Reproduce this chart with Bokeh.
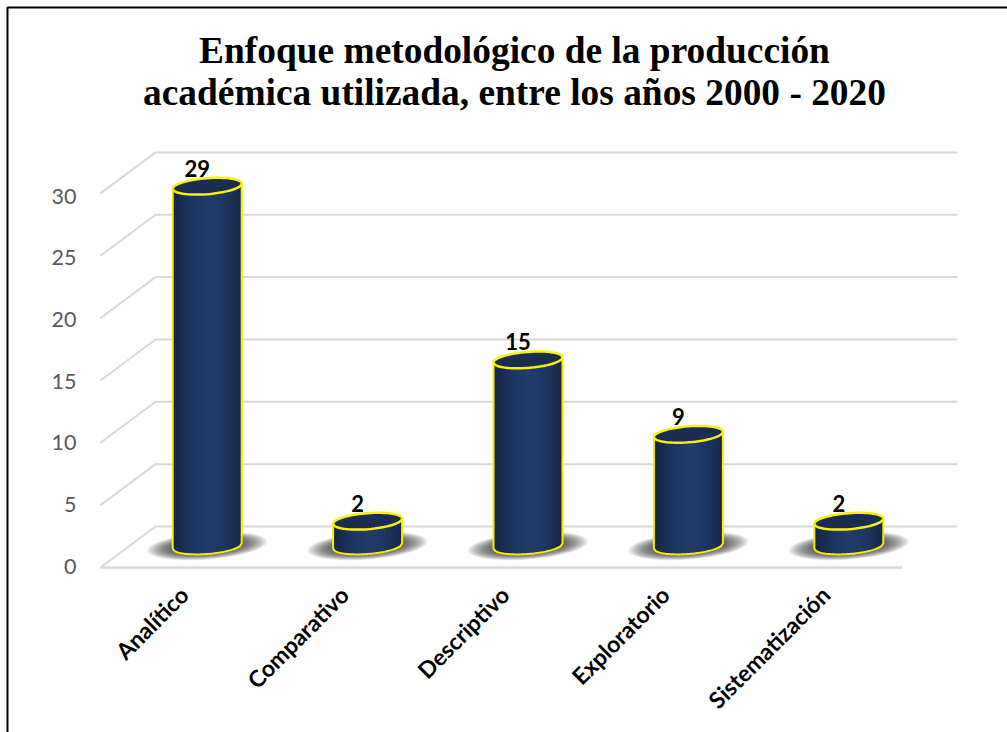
import math
from bokeh.plotting import figure
from bokeh.models import Range1d, FixedTicker
from bokeh.core.properties import value
from bokeh.embed import file_html
from bokeh.resources import INLINE

categories = ["Analítico", "Comparativo", "Descriptivo", "Exploratorio", "Sistematización"]
values = [29, 2, 15, 9, 2]
y_ticks = [0, 5, 10, 15, 20, 25, 30]
title_lines = ["Enfoque metodológico de la producción",
               "académica utilizada, entre los años 2000 - 2020"]

W, H = 1007, 732
OX, OY = 0, 0            # page offset of the figure
L, B = 100, 567          # page pixel of the data origin
CAT_PX = 160.4
VAL_PX = 12.47
DEPTH_X, DEPTH_Y = 55, 41
LABEL_PX = 12.33         # value-axis labels are spaced a little tighter than the walls
LABEL_ZERO = 565.5
BAR_SCALE = 0.995


def px_x(px):
    return (px - L) / CAT_PX


def px_y(py):
    return (B - py) / VAL_PX


p = figure(width=W, height=H, output_backend="svg", toolbar_location=None,
           x_range=Range1d(px_x(OX), px_x(OX + W)), y_range=Range1d(px_y(OY + H), px_y(OY)),
           extra_y_ranges={"labels": Range1d((LABEL_ZERO - (OY + H)) / LABEL_PX, (LABEL_ZERO - OY) / LABEL_PX)},
           min_border=0, background_fill_color="white", border_fill_color="white")
p.outline_line_color = None
p.grid.visible = False

# axes, fixed at the data origin inside the frame
from bokeh.models import LinearAxis
p.yaxis.visible = False
yax = LinearAxis(y_range_name="labels", fixed_location=0, ticker=FixedTicker(ticks=y_ticks))
yax.axis_line_color = None
yax.major_tick_line_color = None
yax.minor_tick_line_color = None
yax.major_label_text_font = "Lato"
yax.major_label_text_font_size = "21.5px"
yax.major_label_text_color = "#595959"
yax.major_label_standoff = 18
p.add_layout(yax, "left")

p.xaxis.fixed_location = 0
label_ticks = [i + 0.52 for i in range(len(categories))]
p.xaxis.ticker = FixedTicker(ticks=label_ticks)
p.xaxis.major_label_overrides = dict(zip(label_ticks, categories))
p.xaxis.axis_line_color = None
p.xaxis.major_tick_line_color = None
p.xaxis.minor_tick_line_color = None
p.xaxis.major_label_orientation = math.pi / 4
p.xaxis.major_label_text_font = "Lato"
p.xaxis.major_label_text_font_style = "bold"
p.xaxis.major_label_text_font_size = "23px"
p.xaxis.major_label_text_color = "black"
p.xaxis.major_label_standoff = 17

dx_back = DEPTH_X / CAT_PX
dy_back = DEPTH_Y / VAL_PX
n = len(categories)
grid_c = "#d9d9d9"
x_back_end = px_x(957)

# page frame: left and top rules only
p.line([px_x(7), px_x(7), px_x(OX + W)], [px_y(OY + H), px_y(7), px_y(7)],
       line_color="black", line_width=2)

# floor front edge
p.line([0, n], [0, 0], line_color=grid_c, line_width=2.5)
# walls
for t in y_ticks:
    p.line([0, dx_back, x_back_end], [t, t + dy_back, t + dy_back], line_color=grid_c, line_width=2)

cx_off = 26.5 / CAT_PX
cy_off = 21.5 / VAL_PX
A = 34.5   # half width, px
Bb = 8.0   # half height, px
SLOPE = -0.075  # screen tilt


def ell(cx, cy, a, b, k=64):
    xs, ys = [], []
    for j in range(k):
        th = 2 * math.pi * j / k
        px = a * math.cos(th)
        py = b * math.sin(th) + (-SLOPE) * px
        xs.append(cx + px / CAT_PX)
        ys.append(cy + py / VAL_PX)
    return xs, ys


def lerp_col(c1, c2, t):
    return "#%02x%02x%02x" % tuple(round(a + (b - a) * t) for a, b in zip(c1, c2))


EDGE = (0x16, 0x27, 0x47)
MID = (0x20, 0x3b, 0x6a)


def low_y(u):
    return cy_off + (-SLOPE * u * A - Bb * math.sqrt(max(0, 1 - u * u))) / VAL_PX


for i, v in enumerate(values):
    cx = i + 0.5 + cx_off
    top = v * BAR_SCALE + cy_off
    # soft shadow
    layers = 22
    sx, sy = [], []
    for k in range(layers):
        f = 1 - k / layers * 0.7
        a, b = ell(cx, cy_off, 60 * f, 13.5 * f)
        sx.append(a)
        sy.append(b)
    p.patches(sx, sy, fill_color="#303030", fill_alpha=0.085, line_color=None)

    # body strips, each painted from its left edge to the right side so that no seams show
    strips = 34
    xs, ys, cols = [], [], []
    for s in range(strips):
        u0 = -1 + 2 * s / strips
        k = 2 * (strips - s)
        us = [u0 + (1 - u0) * q / k for q in range(k + 1)]
        lo_x = [cx + u * A / CAT_PX for u in us]
        lo_y = [low_y(u) for u in us]
        xs.append(lo_x + [lo_x[-1], lo_x[0]])
        ys.append(lo_y + [top, top])
        m = u0 + 1 / strips
        t = 1 - min(1, abs(m - 0.05) / 0.95) ** 1.6
        cols.append(lerp_col(EDGE, MID, t))
    p.patches(xs, ys, fill_color=cols, line_color=None)

    # outline: bottom arc and sides
    arc_u = [-1 + 2 * q / 40 for q in range(41)]
    ax = [cx + u * A / CAT_PX for u in arc_u]
    ay = [low_y(u) for u in arc_u]
    top_l = top + SLOPE * A / VAL_PX
    top_r = top - SLOPE * A / VAL_PX
    p.line([ax[0]] + ax + [ax[-1]], [top_l] + ay + [top_r], line_color="#f5f000", line_width=2)

    # top cap
    tx, ty = ell(cx, top, A, Bb)
    p.patch(tx, ty, fill_color="#1a2c50", line_color="#f8f400", line_width=2.5)

p.text(x=[i + 0.5 + cx_off for i in range(n)], y=[v * BAR_SCALE + cy_off for v in values],
       text=[str(v) for v in values], text_font=value("Lato"), text_font_style="bold",
       text_font_size="22px", text_color="black", text_align="center",
       text_baseline="middle", x_offset=-10, y_offset=-18)

# title lines
p.text(x=[px_x(514)] * 2, y=[px_y(50), px_y(92)], text=title_lines,
       text_font=value("Liberation Serif"), text_font_style="bold", text_font_size="37.4px",
       text_color="black", text_align="center", text_baseline="middle")

open("out.html", "w").write(file_html(p, INLINE))
